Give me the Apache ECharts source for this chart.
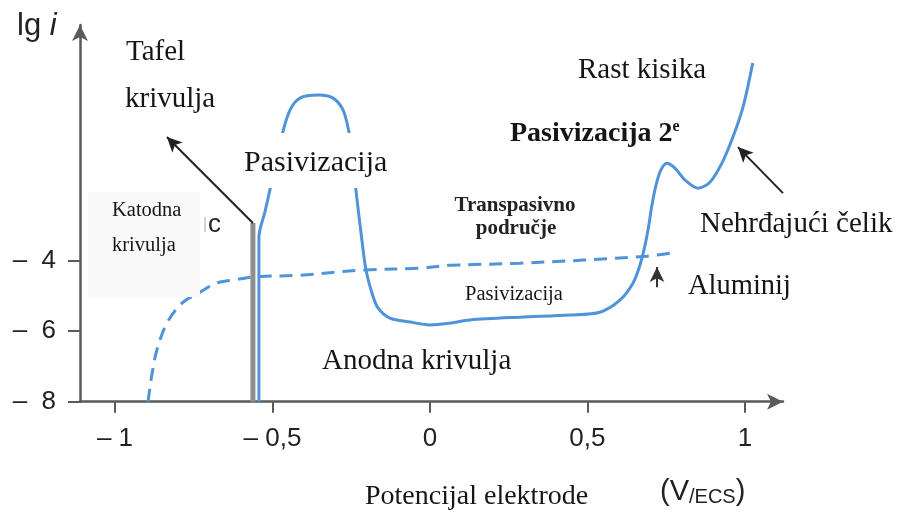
<!DOCTYPE html>
<html><head><meta charset="utf-8">
<script src="https://cdn.jsdelivr.net/npm/echarts@6/dist/echarts.min.js"></script>
<style>html,body{margin:0;padding:0;background:#fff}#c{width:898px;height:515px}</style>
</head><body><div id="c"></div>
<script>
// ---- data ----
const xTickValues = [-1, -0.5, 0, 0.5, 1];
const yTickValues = [-8, -6, -4];
// stainless steel anodic curve (solid)
const steelX = [-0.543,-0.543,-0.524,-0.508,-0.467,-0.444,-0.413,-0.355,-0.308,-0.276,-0.257,-0.244,-0.235,-0.216,-0.203,-0.184,-0.165,-0.127,-0.063,0.0,0.063,0.127,0.286,0.445,0.540,0.603,0.645,0.667,0.683,0.695,0.705,0.718,0.733,0.752,0.778,0.810,0.851,0.889,0.927,0.962,0.994,1.025];
const steelY = [-8,-3.33,-2.62,-1.99,-0.35,0.28,0.615,0.70,0.615,0.28,-0.35,-1.14,-1.99,-3.41,-4.26,-4.92,-5.34,-5.63,-5.74,-5.82,-5.77,-5.68,-5.60,-5.54,-5.46,-5.12,-4.63,-4.12,-3.555,-2.99,-2.42,-1.85,-1.43,-1.23,-1.37,-1.71,-1.94,-1.77,-1.23,-0.49,0.36,1.61];
// aluminium curve (dashed)
const aluX = [-0.895,-0.882,-0.867,-0.835,-0.787,-0.730,-0.676,-0.625,-0.562,-0.413,-0.206,-0.032,0.063,0.286,0.689,0.787];
const aluY = [-8,-7.19,-6.54,-5.77,-5.20,-4.89,-4.63,-4.55,-4.46,-4.41,-4.26,-4.21,-4.13,-4.07,-3.87,-3.75];
// cathodic (Tafel) vertical line and arrows
const cathodeX = [-0.562, -0.562];
const cathodeY = [-8, -2.93];
const tafelArrow = [[-0.562, -2.93], [-0.835, -0.49]];
const steelArrow = [[1.121, -2.08], [0.978, -0.775]];
const aluArrow = [[0.721, -4.75], [0.721, -4.18]];

const zip = (a, b) => a.map((v, i) => [v, b[i]]);
const fmtX = v => (v < 0 ? '\u2013 ' : '') + String(Math.abs(v)).replace('.', ',');
const fmtY = v => (v < 0 ? '\u2013  ' : '') + String(Math.abs(v)).replace('.', ',');
const BLUE = '#4f93d9';
const SERIF = '"Liberation Serif", "Times New Roman", serif';
const SANS = '"Liberation Sans", Arial, sans-serif';

function txt(x, y, text, size, opts) {
  opts = opts || {};
  return {
    type: 'text', x: x, y: y, z: 100,
    style: Object.assign({
      text: text,
      font: (opts.weight || 'normal') + ' ' + size + 'px ' + (opts.family || SERIF),
      fill: '#151515',
      textAlign: opts.align || 'left',
      textVerticalAlign: 'middle'
    }, opts.style || {})
  };
}

const chart = echarts.init(document.getElementById('c'));
chart.setOption({
  backgroundColor: '#fff',
  animation: false,
  grid: { left: 80, right: 115, top: 25, bottom: 113.3, containLabel: false },
  xAxis: {
    type: 'value', min: -1.111, max: 1.121,
    axisLine: { show: true, onZero: false, symbol: ['none', 'arrow'], symbolSize: [12, 16],
      lineStyle: { color: '#5a5a5a', width: 2.5 } },
    axisTick: { show: true, customValues: xTickValues, length: 11, lineStyle: { color: '#5a5a5a', width: 2 } },
    axisLabel: { customValues: xTickValues, formatter: fmtX, margin: 24, fontSize: 26, color: '#222', fontFamily: SANS },
    splitLine: { show: false }
  },
  yAxis: {
    type: 'value', min: -8, max: 2.69,
    axisLine: { show: true, onZero: false, symbol: ['none', 'arrow'], symbolSize: [12, 16],
      lineStyle: { color: '#5a5a5a', width: 2.5 } },
    axisTick: { show: true, customValues: yTickValues, length: 12, lineStyle: { color: '#5a5a5a', width: 2 } },
    axisLabel: { customValues: yTickValues, formatter: fmtY, margin: 24, fontSize: 26, color: '#222', fontFamily: SANS },
    splitLine: { show: false }
  },
  series: [
    { type: 'line', data: zip(aluX, aluY), smooth: 0.35, symbol: 'none', z: 3,
      lineStyle: { color: BLUE, width: 3, type: [13, 8] } },
    { type: 'line', data: zip(cathodeX, cathodeY), symbol: 'none', z: 4,
      lineStyle: { color: '#8e8e8e', width: 5 } },
    { type: 'line', data: zip(steelX, steelY), smooth: 0.3, symbol: 'none', z: 5,
      lineStyle: { color: BLUE, width: 3 },
      markLine: {
        silent: true, animation: false, symbol: ['none', 'arrow'], symbolSize: [11, 15],
        label: { show: false },
        lineStyle: { color: '#222', width: 2, type: 'solid' },
        data: [
          [{ coord: tafelArrow[0] }, { coord: tafelArrow[1] }],
          [{ coord: steelArrow[0] }, { coord: steelArrow[1] }],
          [{ coord: aluArrow[0], lineStyle: { width: 2, color: '#333' }, symbolSize: [8, 10] }, { coord: aluArrow[1] }]
        ]
      }
    }
  ],
  graphic: [
    { type: 'rect', z: 90, shape: { x: 88, y: 192, width: 112, height: 105 }, style: { fill: '#f9f9f9' } },
    { type: 'rect', z: 90, shape: { x: 238, y: 133, width: 158, height: 55 }, style: { fill: '#ffffff' } },
    { type: 'text', x: 17, y: 26, z: 100, style: { text: '{a|lg }{b|i}', textVerticalAlign: 'middle',
        rich: { a: { fontSize: 31, fontFamily: SANS, fill: '#222' }, b: { fontSize: 31, fontFamily: SANS, fontStyle: 'italic', fill: '#222' } } } },
    txt(126, 52, 'Tafel', 29),
    txt(125, 99, 'krivulja', 29),
    txt(112, 211, 'Katodna', 20.5),
    txt(112, 246, 'krivulja', 20.5),
    { type: 'line', z: 100, shape: { x1: 205, y1: 217, x2: 205, y2: 232 }, style: { stroke: '#aaa', lineWidth: 1 } },
    txt(208, 225, 'c', 26, { family: SANS, style: { fill: '#222' } }),
    txt(244, 163, 'Pasivizacija', 30),
    txt(322, 361, 'Anodna krivulja', 29),
    txt(515, 206, 'Transpasivno', 21, { align: 'center', weight: 'bold', style: { fill: '#222' } }),
    txt(516, 229, 'područje', 21, { align: 'center', weight: 'bold', style: { fill: '#222' } }),
    txt(465, 295, 'Pasivizacija', 20.5),
    { type: 'text', x: 510, y: 134, z: 100, style: { text: '{a|Pasivizacija 2}{b|e}', textVerticalAlign: 'middle',
        rich: { a: { fontSize: 28, fontWeight: 'bold', fontFamily: SERIF, fill: '#151515' },
                b: { fontSize: 16, fontWeight: 'bold', fontFamily: SERIF, fill: '#151515', verticalAlign: 'top', padding: [0, 0, 14, 0] } } } },
    txt(578, 70, 'Rast kisika', 29),
    txt(700, 224, 'Nehrđajući čelik', 29),
    txt(688, 287, 'Aluminij', 28.5),
    txt(365, 497, 'Potencijal elektrode', 28),
    { type: 'text', x: 660, y: 492, z: 100, style: { text: '{a|(V}{b|/ECS}{a|)}', textVerticalAlign: 'middle',
        rich: { a: { fontSize: 29, fontFamily: SANS, fill: '#222' }, b: { fontSize: 20, fontFamily: SANS, fill: '#222', padding: [11, 0, 0, 0] } } } }
  ]
});
</script></body></html>
